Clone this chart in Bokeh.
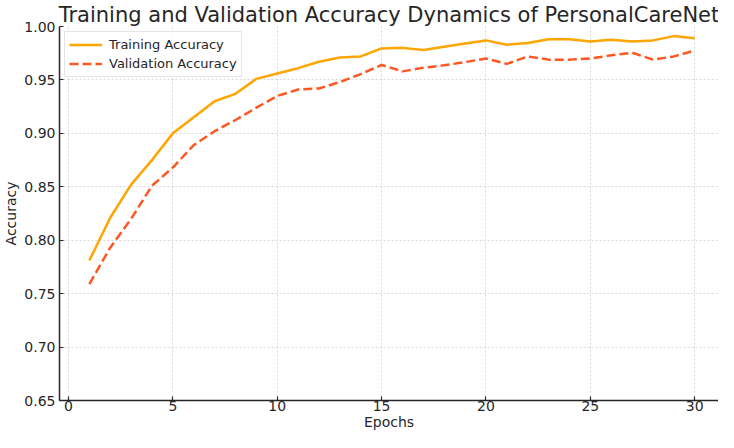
from bokeh.plotting import figure
from bokeh.models import Range1d, FixedTicker, Legend, LegendItem, NumeralTickFormatter, Title
from bokeh.embed import file_html
from bokeh.resources import INLINE

# ---- data ----
epochs = list(range(1, 31))
train_acc = [0.781, 0.821, 0.852, 0.875, 0.900, 0.915, 0.930, 0.937, 0.951, 0.956,
             0.961, 0.967, 0.971, 0.972, 0.9795, 0.980, 0.978, 0.981, 0.984, 0.987,
             0.983, 0.9845, 0.988, 0.988, 0.986, 0.9877, 0.986, 0.987, 0.991, 0.989]
val_acc = [0.759, 0.793, 0.820, 0.851, 0.868, 0.889, 0.902, 0.9125, 0.924, 0.935,
           0.941, 0.942, 0.948, 0.9555, 0.964, 0.958, 0.9615, 0.9637, 0.9667, 0.970,
           0.965, 0.972, 0.969, 0.969, 0.970, 0.973, 0.9755, 0.969, 0.972, 0.9775]
x_ticks = [0, 5, 10, 15, 20, 25, 30]
y_ticks = [0.65, 0.70, 0.75, 0.80, 0.85, 0.90, 0.95, 1.00]
title_text = "Training and Validation Accuracy Dynamics of PersonalCareNet"
x_label = "Epochs"
y_label = "Accuracy"
train_name = "Training Accuracy"
val_name = "Validation Accuracy"

FONT = "DejaVu Sans"
TXT = "#262626"

p = figure(width=718, height=432, output_backend="svg", toolbar_location=None,
           x_range=Range1d(-0.43, 31.14), y_range=Range1d(0.65, 1.00),
           min_border_left=0, min_border_right=0, min_border_top=0, min_border_bottom=0)
p.outline_line_color = None
p.background_fill_color = "white"

p.title = Title(text=title_text, text_font=FONT, text_font_size="21px",
                text_font_style="normal", text_color=TXT, align="center", standoff=0,
                offset=5)

for ax in (p.xaxis, p.yaxis):
    ax.major_label_text_font = FONT
    ax.major_label_text_font_size = "14px"
    ax.major_label_text_color = TXT
    ax.axis_label_text_font = FONT
    ax.axis_label_text_font_size = "14px"
    ax.axis_label_text_font_style = "normal"
    ax.axis_label_text_color = TXT
    ax.axis_line_color = TXT
    ax.axis_line_width = 1.5
    ax.major_tick_line_color = TXT
    ax.major_tick_line_width = 1.2
    ax.major_tick_in = 4
    ax.major_tick_out = 0
    ax.minor_tick_line_color = None
p.xaxis.axis_label = x_label
p.yaxis.axis_label = y_label
p.xaxis.ticker = FixedTicker(ticks=x_ticks)
p.yaxis.ticker = FixedTicker(ticks=y_ticks)
p.yaxis.formatter = NumeralTickFormatter(format="0.00")
p.xaxis.major_label_standoff = 0
p.xaxis.axis_label_standoff = 0
p.yaxis.major_label_standoff = 4
p.yaxis.axis_label_standoff = 2

for g in (p.xgrid, p.ygrid):
    g.grid_line_color = "#b8b8b8"
    g.grid_line_alpha = 0.7
    g.grid_line_dash = "2 2"
    g.grid_line_width = 0.8

r1 = p.line(epochs, train_acc, line_color="#FFA500", line_width=2.5)
r2 = p.line(epochs, val_acc, line_color="#FF5722", line_width=2.5, line_dash="9 4")

legend = Legend(items=[LegendItem(label=train_name, renderers=[r1]),
                       LegendItem(label=val_name, renderers=[r2])],
                location="top_left", margin=5, padding=4, spacing=2,
                glyph_width=33, glyph_height=17, label_height=17, label_standoff=7,
                label_text_font=FONT, label_text_font_size="13px", label_text_color=TXT,
                border_line_color="#cccccc", border_line_width=1,
                background_fill_color="white", background_fill_alpha=0.85)
p.add_layout(legend, "center")

open("out.html", "w").write(file_html(p, INLINE))
